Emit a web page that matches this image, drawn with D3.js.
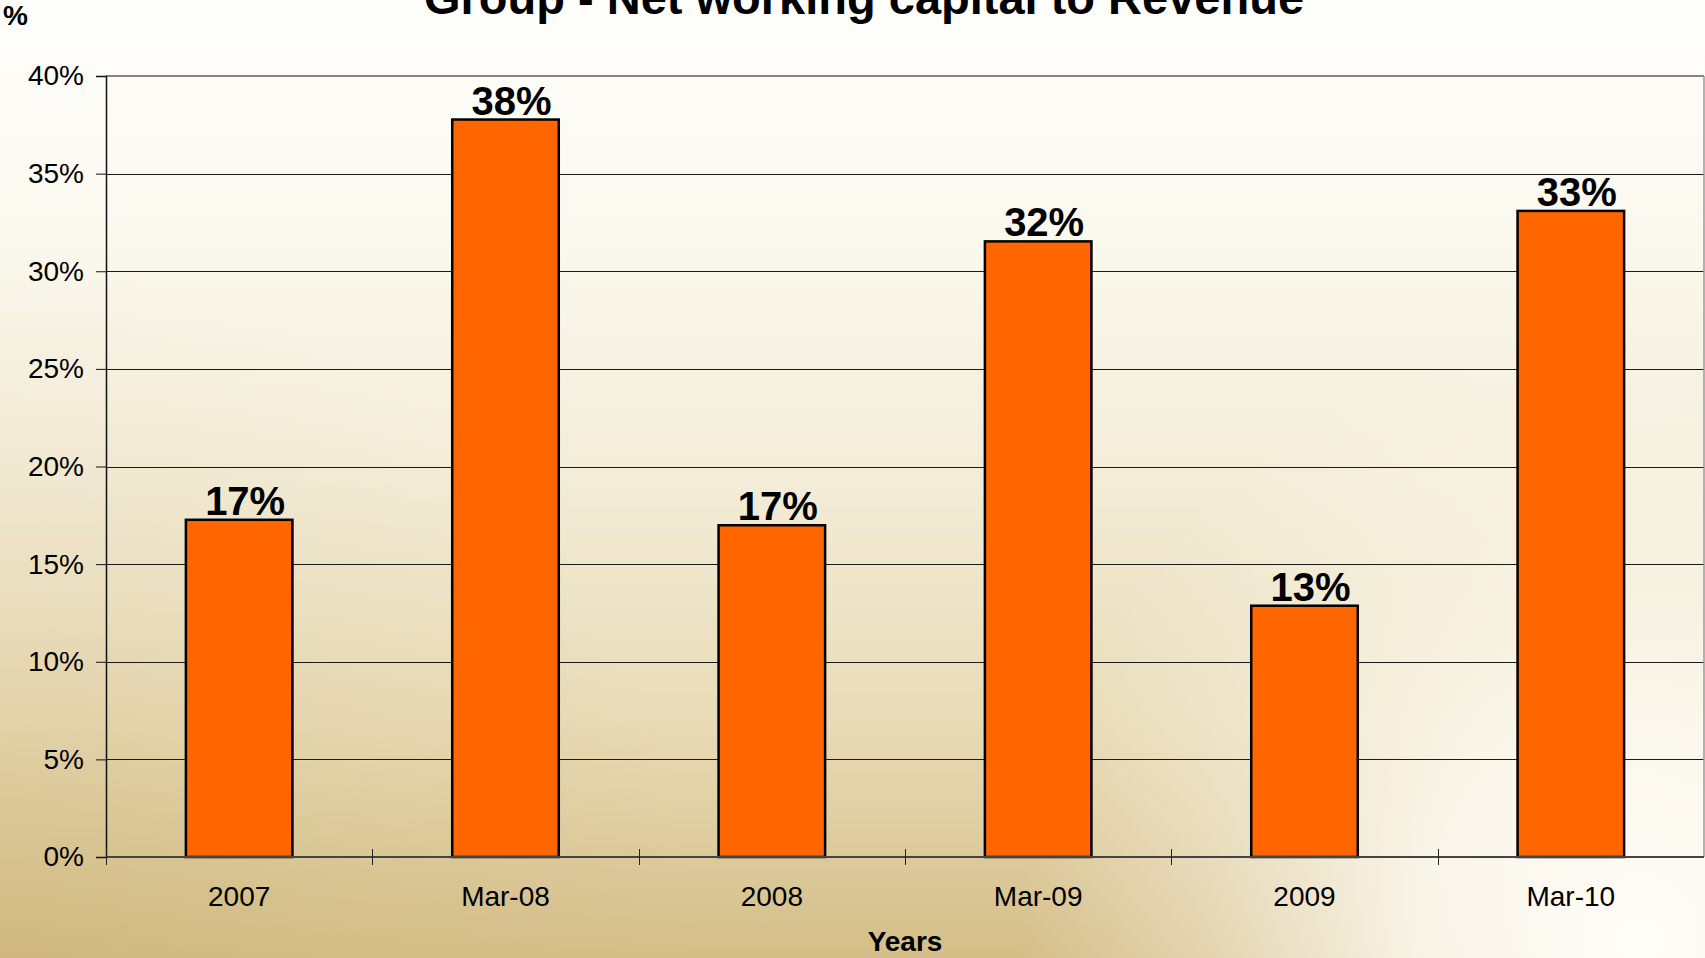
<!DOCTYPE html>
<html>
<head>
<meta charset="utf-8">
<script src="https://cdn.jsdelivr.net/npm/d3@7"></script>
<style>
  html, body { margin: 0; padding: 0; overflow: hidden; }
  svg { display: block; }
  text { font-family: "Liberation Sans", Arial, sans-serif; fill: #000; }
</style>
</head>
<body>
<svg id="chart" width="1705" height="958"></svg>
<script>
// Net working capital as a share of revenue, per reporting period
const categories = ["2007", "Mar-08", "2008", "Mar-09", "2009", "Mar-10"];
const ratios = [0.1727, 0.3777, 0.1699, 0.3153, 0.1287, 0.3309];
const yTicks = [0, 0.05, 0.10, 0.15, 0.20, 0.25, 0.30, 0.35, 0.40];

const titleText = "Group - Net working capital to Revenue";
const yUnitText = "%";
const xAxisTitle = "Years";

const W = 1705, H = 958;
const plot = { left: 106, right: 1704, top: 76, bottom: 857 };

const svg = d3.select("#chart");
const defs = svg.append("defs");

// Parchment-style backdrop: cream at the top, tan at the bottom, light glow bottom-right
const lin = defs.append("linearGradient").attr("id", "bgLin")
  .attr("x1", 0).attr("y1", 0).attr("x2", 0).attr("y2", 1);
[[0, "#fefefb"], [0.25, "#fbf8ee"], [0.5, "#f3ecd8"], [0.75, "#e8dbb6"], [1, "#d4be88"]]
  .forEach(([o, c]) => lin.append("stop").attr("offset", o).attr("stop-color", c));

const side = defs.append("radialGradient").attr("id", "bgSide")
  .attr("gradientUnits", "userSpaceOnUse")
  .attr("cx", 0).attr("cy", 958).attr("r", 700);
[[0, 0.35], [0.5, 0.12], [1, 0]]
  .forEach(([o, a]) => side.append("stop").attr("offset", o).attr("stop-color", "#c8ae70").attr("stop-opacity", a));

const glow = defs.append("radialGradient").attr("id", "bgGlow")
  .attr("gradientUnits", "userSpaceOnUse")
  .attr("cx", 1640).attr("cy", 940).attr("r", 620);
[[0, 1], [0.35, 0.85], [0.7, 0.35], [1, 0]]
  .forEach(([o, a]) => glow.append("stop").attr("offset", o).attr("stop-color", "#fffdf8").attr("stop-opacity", a));

svg.append("rect").attr("width", W).attr("height", H).attr("fill", "url(#bgLin)");
svg.append("rect").attr("width", W).attr("height", H).attr("fill", "url(#bgSide)");
svg.append("rect").attr("width", W).attr("height", H).attr("fill", "url(#bgGlow)");

// Scales
const x = d3.scaleBand()
  .domain(categories)
  .range([plot.left, plot.right])
  .paddingInner(0.6)
  .paddingOuter(0.3);

const y = d3.scaleLinear()
  .domain([0, 0.40])
  .range([plot.bottom, plot.top]);

const pct = d3.format(".0%");

// Horizontal gridlines
svg.append("g")
  .selectAll("line")
  .data(yTicks.filter(t => t > 0 && t < 0.40))
  .join("line")
  .attr("x1", plot.left).attr("x2", plot.right)
  .attr("y1", d => Math.round(y(d)) + 0.5).attr("y2", d => Math.round(y(d)) + 0.5)
  .attr("stroke", "#1a1a1a").attr("stroke-width", 1);

// Plot frame: top and right edges in grey
svg.append("line")
  .attr("x1", plot.left).attr("x2", plot.right)
  .attr("y1", y(0.40)).attr("y2", y(0.40))
  .attr("stroke", "#858585").attr("stroke-width", 2);
svg.append("line")
  .attr("x1", plot.right).attr("x2", plot.right)
  .attr("y1", y(0.40)).attr("y2", y(0))
  .attr("stroke", "#9a9a9a").attr("stroke-width", 1.5);

// Bars
svg.append("g")
  .selectAll("rect")
  .data(categories.map((c, i) => ({ c, v: ratios[i] })))
  .join("rect")
  .attr("x", d => x(d.c))
  .attr("y", d => y(d.v))
  .attr("width", x.bandwidth())
  .attr("height", d => y(0) - y(d.v))
  .attr("fill", "#ff6600")
  .attr("stroke", "#000")
  .attr("stroke-width", 2.5);

// Value labels above bars
svg.append("g")
  .selectAll("text")
  .data(categories.map((c, i) => ({ c, v: ratios[i] })))
  .join("text")
  .attr("x", d => x(d.c) + x.bandwidth() / 2 + 6)
  .attr("y", d => y(d.v) - 5)
  .attr("text-anchor", "middle")
  .attr("font-size", 40)
  .attr("font-weight", "bold")
  .text(d => pct(d.v));

// Y axis
const yAxis = svg.append("g")
  .attr("transform", `translate(${plot.left},0)`)
  .call(d3.axisLeft(y).tickValues(yTicks).tickFormat(pct).tickSize(10).tickPadding(12));
yAxis.select(".domain").attr("stroke", "#111").attr("stroke-width", 1.5);
yAxis.selectAll(".tick line").attr("stroke", "#111").attr("stroke-width", 1);
yAxis.selectAll(".tick text")
  .attr("font-size", 28)
  .attr("font-family", "Liberation Sans, Arial, sans-serif")
  .attr("fill", "#000");

// X axis baseline
svg.append("line")
  .attr("x1", plot.left).attr("x2", plot.right)
  .attr("y1", y(0)).attr("y2", y(0))
  .attr("stroke", "#444").attr("stroke-width", 2);

// Category boundary ticks crossing the baseline
const boundaries = categories.map(c => x(c) + x.bandwidth() / 2 - x.step() / 2);
svg.append("g")
  .selectAll("line")
  .data(boundaries)
  .join("line")
  .attr("x1", d => Math.round(d) + 0.5).attr("x2", d => Math.round(d) + 0.5)
  .attr("y1", y(0) - 8).attr("y2", y(0) + 8)
  .attr("stroke", "#222").attr("stroke-width", 1);

// Category labels
svg.append("g")
  .selectAll("text")
  .data(categories)
  .join("text")
  .attr("x", d => x(d) + x.bandwidth() / 2)
  .attr("y", y(0) + 49)
  .attr("text-anchor", "middle")
  .attr("font-size", 28)
  .text(d => d);

// Axis titles and chart title
svg.append("text")
  .attr("x", (plot.left + plot.right) / 2)
  .attr("y", 951)
  .attr("text-anchor", "middle")
  .attr("font-size", 28)
  .attr("font-weight", "bold")
  .text(xAxisTitle);

svg.append("text")
  .attr("x", 3)
  .attr("y", 25)
  .attr("font-size", 28)
  .attr("font-weight", "bold")
  .text(yUnitText);

svg.append("text")
  .attr("x", 864)
  .attr("y", 14)
  .attr("text-anchor", "middle")
  .attr("font-size", 47)
  .attr("font-weight", "bold")
  .text(titleText);
</script>
</body>
</html>
